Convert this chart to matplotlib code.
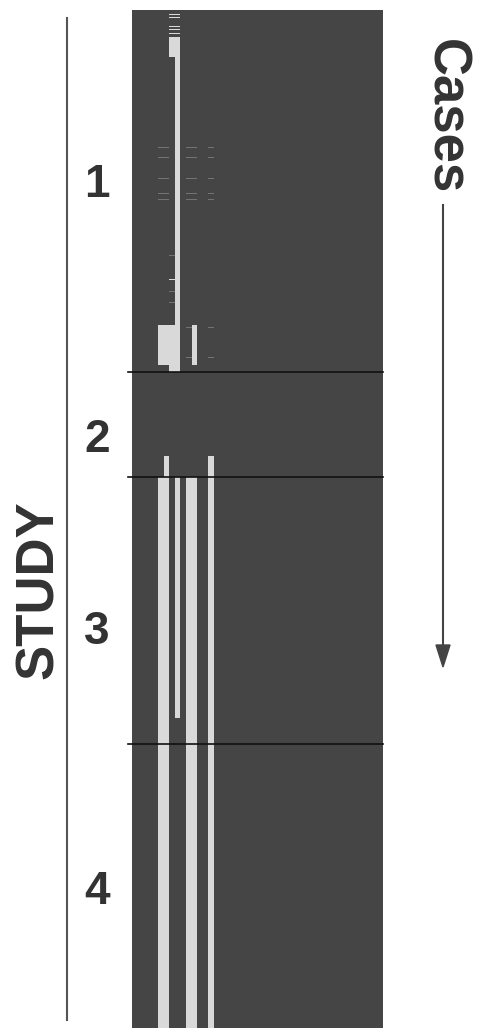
import matplotlib
matplotlib.use("Agg")
import matplotlib.pyplot as plt

# ---------------- data ----------------
# cases per study (rows of the missingness matrix, in order)
study_labels = ["1", "2", "3", "4"]
study_sizes = [362, 105, 267, 284]
n_vars = 45

# missing-value runs per variable: (first_case, last_case_exclusive)
missing_runs = {
    5:  [(315, 355), (467, 1018)],
    6:  [(315, 355), (446, 1018)],
    7:  [(4, 5), (7, 8), (16, 17), (19, 20), (23, 24), (27, 47), (269, 270), (315, 362)],
    8:  [(4, 5), (7, 8), (16, 17), (19, 20), (23, 24), (27, 362), (467, 708)],
    10: [(467, 1018)],
    11: [(315, 355), (467, 1018)],
    14: [(446, 1018)],
}
# isolated single missing cases (render faint)
sparse_cases = {
    5:  [137, 147, 168, 183, 189],
    6:  [137, 147, 168, 183, 189],
    7:  [245, 281, 292],
    10: [137, 147, 168, 183, 189, 317, 347],
    11: [137, 147, 168, 183, 189],
    14: [137, 147, 168, 183, 189, 317, 347],
}

# ---------------- figure ----------------
W, H = 484, 1034
fig = plt.figure(figsize=(W / 100, H / 100), dpi=100)
fig.patch.set_facecolor("white")

x0, x1, y0, y1 = 132, 383, 10, 1028
ax = fig.add_axes([x0 / W, 1 - y1 / H, (x1 - x0) / W, (y1 - y0) / H])
total = sum(study_sizes)
ax.set_facecolor("#454545")
ax.set_xlim(0.36, 0.36 + (x1 - x0) / 5.6)
ax.set_ylim(total, 0)
for s in ax.spines.values():
    s.set_visible(False)
ax.set_xticks([])
ax.set_yticks([])

bar_col = "#d9d9d9"
for v, runs in missing_runs.items():
    for a, b in runs:
        ax.fill_between([v, v + 1], a, b, color=bar_col, linewidth=0)
for v, cases in sparse_cases.items():
    for c in cases:
        ax.fill_between([v, v + 1], c, c + 1.3, color="#737373", linewidth=0)

# study boundaries
cum = 0
for sz in study_sizes[:-1]:
    cum += sz
    ax.axhline(cum, xmin=-0.016, xmax=1.0, color="#111111", lw=1.2, clip_on=False)

# study numbers
num_y = [185, 440, 632, 892]
for lab, yy in zip(study_labels, num_y):
    fig.text(97 / W, 1 - yy / H, lab, ha="center", va="center",
             fontsize=33, fontweight="bold", color="#333333",
             family=["Liberation Sans", "DejaVu Sans"])

# STUDY label and vertical rule
fig.text(39 / W, 1 - 590 / H, "STUDY", rotation=90, ha="center", va="center",
         fontsize=38, fontweight="bold", color="#333333",
         family=["Liberation Sans", "DejaVu Sans"])
fig.add_artist(plt.Line2D([67 / W, 67 / W], [1 - 18 / H, 1 - 1020 / H],
                          color="#555555", lw=1.5))

# Cases label and arrow
fig.text(445 / W, 1 - 117 / H, "Cases", rotation=-90, ha="center", va="center",
         fontsize=38, fontweight="bold", color="#333333",
         family=["Liberation Sans", "DejaVu Sans"])
fig.add_artist(plt.Line2D([443 / W, 443 / W], [1 - 205 / H, 1 - 650 / H],
                          color="#444444", lw=1.5))
fig.patches.append(plt.Polygon([[436 / W, 1 - 645 / H], [450 / W, 1 - 645 / H],
                                [443 / W, 1 - 667 / H]], closed=True,
                               transform=fig.transFigure, color="#444444"))

fig.savefig("out.png", dpi=100, facecolor="white")
